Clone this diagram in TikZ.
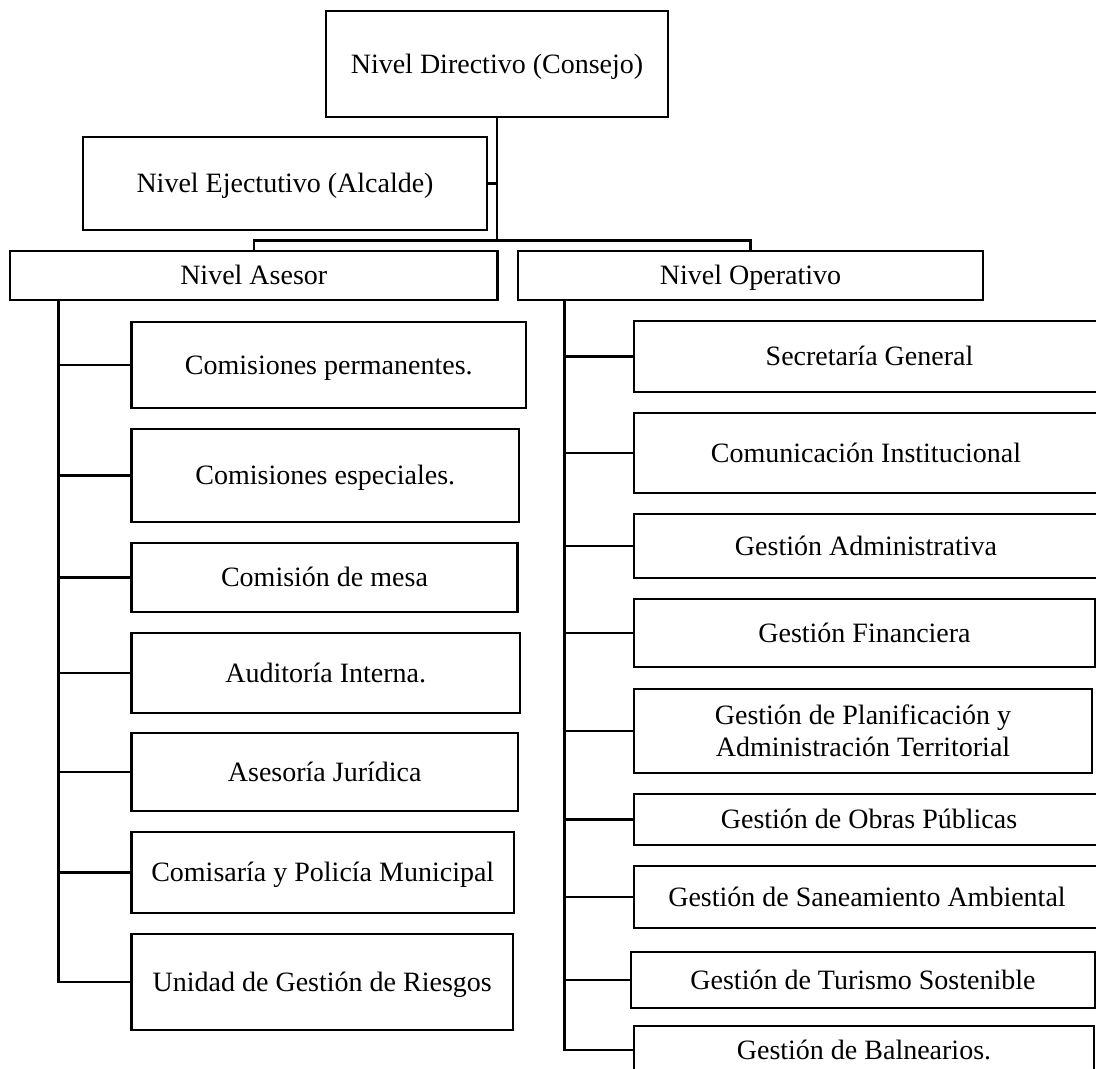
\documentclass[tikz,border=0pt]{standalone}
\usepackage{fontspec}
\setmainfont{Liberation Serif}
\begin{document}
\begin{tikzpicture}[x=1pt,y=-1pt,
  box/.style={draw=black,line width=2.4pt,rectangle,inner sep=0pt,align=center,
    font=\fontsize{28}{32}\selectfont},
  one/.style={box,text height=25.4pt,text depth=6.6pt},
  link/.style={draw=black,line width=2.4pt}]
\useasboundingbox (0,0) rectangle (1096,1069);
% top levels
\node[one,minimum width=342,minimum height=106] (dir) at (497,64) {Nivel Directivo (Consejo)};
\node[one,minimum width=404,minimum height=93] (eje) at (285,183.5) {Nivel Ejectutivo (Alcalde)};
\node[one,minimum width=487.5,minimum height=49] (ase) at (253.75,275.5) {Nivel Asesor};
\node[one,minimum width=465,minimum height=49] (ope) at (750.5,275.5) {Nivel Operativo};
% left column
\node[one,minimum width=394.5,minimum height=86] (a1) at (328.75,365) {Comisiones permanentes.};
\node[one,minimum width=387.5,minimum height=93] (a2) at (325.25,475.5) {Comisiones especiales.};
\node[one,minimum width=386,minimum height=69] (a3) at (324.5,577.5) {Comisión de mesa};
\node[one,minimum width=388.5,minimum height=80] (a4) at (325.75,673) {Auditoría Interna.};
\node[one,minimum width=386.5,minimum height=78] (a5) at (324.75,772) {Asesoría Jurídica};
\node[one,minimum width=382.5,minimum height=81] (a6) at (322.75,872.5) {Comisaría y Policía Municipal};
\node[one,minimum width=381.5,minimum height=96] (a7) at (322.25,982) {Unidad de Gestión de Riesgos};
% right column
\node[one,minimum width=471,minimum height=71] (o1) at (869.5,356.5) {Secretaría General};
\node[one,minimum width=464,minimum height=80] (o2) at (866,453) {Comunicación Institucional};
\node[one,minimum width=464,minimum height=64] (o3) at (866,546) {Gestión Administrativa};
\node[one,minimum width=461,minimum height=68] (o4) at (864.5,633) {Gestión Financiera};
\node[box,minimum width=458,minimum height=84] (o5) at (863,731) {Gestión de Planificación y\\Administración Territorial};
\node[one,minimum width=470,minimum height=51] (o6) at (869,819.5) {Gestión de Obras Públicas};
\node[one,minimum width=466,minimum height=62] (o7) at (867,897) {Gestión de Saneamiento Ambiental};
\node[one,minimum width=464,minimum height=56] (o8) at (863,980) {Gestión de Turismo Sostenible};
\node[one,minimum width=460,minimum height=48] (o9) at (864,1050) {Gestión de Balnearios.};
% top connectors
\coordinate (bus) at (497,240.5);
\draw[link] (dir.south) -- (bus);
\draw[link] (eje.east) -- (eje.east -| bus);
\draw[link] (ase.north) |- (bus) -| (ope.north);
% left stem
\coordinate (astem) at (58.5,300);
\draw[link] (astem) |- (a7.west);
\foreach \n in {a1,a2,a3,a4,a5,a6}{\draw[link] (\n.west) -- (\n.west -| astem);}
% right stem
\coordinate (ostem) at (564.5,300);
\draw[link] (ostem) |- (o9.west);
\foreach \n in {o1,o2,o3,o4,o5,o6,o7,o8}{\draw[link] (\n.west) -- (\n.west -| ostem);}
\end{tikzpicture}
\end{document}
